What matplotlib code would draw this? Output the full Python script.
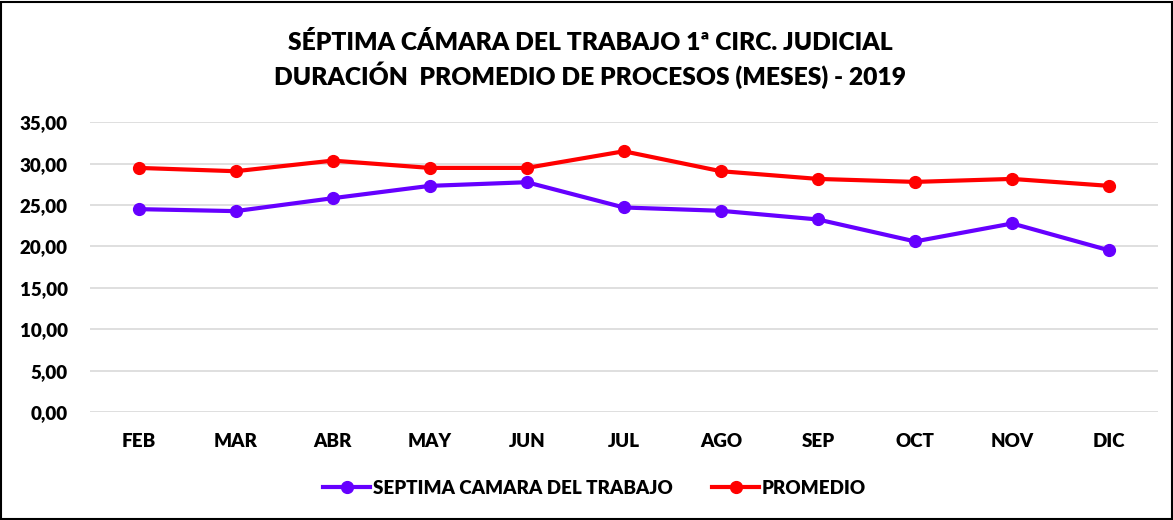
import matplotlib.pyplot as plt
from matplotlib.patches import Rectangle

# Months and series values
months = ['FEB', 'MAR', 'ABR', 'MAY', 'JUN', 'JUL', 'AGO', 'SEP', 'OCT', 'NOV', 'DIC']
septima = [24.50, 24.26, 25.82, 27.31, 27.75, 24.70, 24.30, 23.25, 20.60, 22.77, 19.52]
promedio = [29.48, 29.08, 30.36, 29.48, 29.48, 31.49, 29.08, 28.15, 27.79, 28.15, 27.31]
yticks = [0, 5, 10, 15, 20, 25, 30, 35]

plt.rcParams['font.family'] = ['Lato', 'DejaVu Sans']

fig = plt.figure(figsize=(11.73, 5.2), dpi=100)
ax = fig.add_axes([0.0767, 0.2077, 0.9103, 0.5573])

x = range(len(months))
ax.plot(x, septima, color='#6600FF', lw=3, marker='o', ms=8.5, label='SEPTIMA CAMARA DEL TRABAJO')
ax.plot(x, promedio, color='#FF0000', lw=3, marker='o', ms=8.5, label='PROMEDIO')

ax.set_xlim(-0.5, len(months) - 0.5)
ax.set_ylim(0, 35)
ax.set_yticks(yticks)
ax.set_yticklabels([f'{v:.2f}'.replace('.', ',') for v in yticks], fontsize=13.5, fontweight='heavy')
ax.set_xticks(list(x))
ax.set_xticklabels(months, fontsize=13.5, fontweight='heavy')
ax.tick_params(length=0)
ax.tick_params(axis='x', pad=15)
ax.tick_params(axis='y', pad=16)
ax.grid(axis='y', color='#D9D9D9', lw=1.2)
ax.set_axisbelow(True)
for s in ax.spines.values():
    s.set_visible(False)

fig.text(0.503, 0.918, 'SÉPTIMA CÁMARA DEL TRABAJO 1ª CIRC. JUDICIAL', ha='center', va='center',
         fontsize=17.7, fontweight='heavy')
fig.text(0.503, 0.855, 'DURACIÓN  PROMEDIO DE PROCESOS (MESES) - 2019', ha='center', va='center',
         fontsize=17.7, fontweight='heavy')

leg = fig.legend(loc='center', bbox_to_anchor=(0.507, 0.061), ncol=2, frameon=False,
                 prop={'size': 13.5, 'weight': 'heavy'}, handlelength=2.5, columnspacing=2.1,
                 handletextpad=0.15)

fig.add_artist(Rectangle((0.001, 0.001), 0.998, 0.995, transform=fig.transFigure,
                         fill=False, edgecolor='black', lw=1.5))

fig.savefig('out.png', dpi=100)
